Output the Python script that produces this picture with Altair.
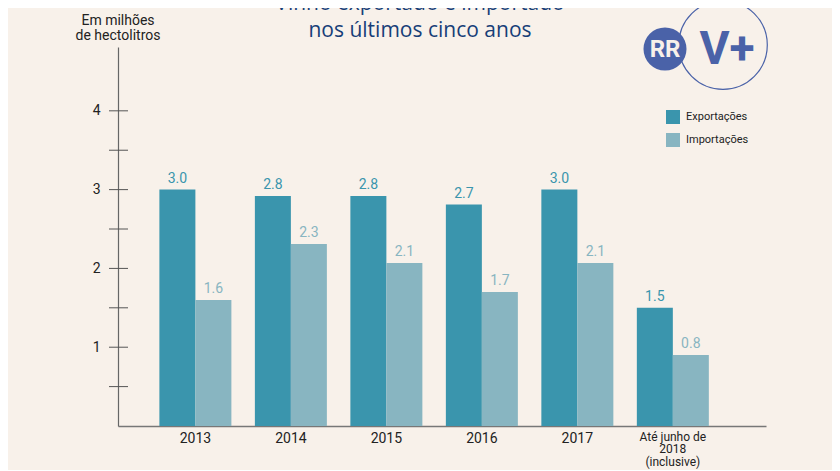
import altair as alt
import pandas as pd

# ---- data ----
years = ["2013", "2014", "2015", "2016", "2017", "Até junho de|2018|(inclusive)"]
series_names = ["Exportações", "Importações"]
exports = [3.0, 2.92, 2.92, 2.81, 3.0, 1.5]
imports = [1.6, 2.31, 2.07, 1.70, 2.07, 0.9]
export_labels = ["3.0", "2.8", "2.8", "2.7", "3.0", "1.5"]
import_labels = ["1.6", "2.3", "2.1", "1.7", "2.1", "0.8"]
y_ticks = [0.5, 1, 1.5, 2, 2.5, 3, 3.5, 4]
title_lines = ["Vinho exportado e importado", "nos últimos cinco anos"]
ytitle_lines = ["Em milhões", "de hectolitros"]

BG = "#f8f1ea"
C_EXP = "#3a95ad"
C_IMP = "#88b5c1"
LOGO = "#4a62a8"

rows = []
for i, y in enumerate(years):
    rows.append({"year": y, "series": series_names[0], "value": exports[i], "label": export_labels[i]})
    rows.append({"year": y, "series": series_names[1], "value": imports[i], "label": import_labels[i]})
df = pd.DataFrame(rows)

xscale = alt.Scale(domain=years, paddingInner=0.246, paddingOuter=0.516, align=0.42)
yscale = alt.Scale(domain=[0, 4.81], nice=False, zero=True)
cscale = alt.Scale(domain=series_names, range=[C_EXP, C_IMP])
oscale = alt.Scale(domain=series_names, paddingInner=0, paddingOuter=0)

base = alt.Chart(df)

bars = base.mark_bar().encode(
    x=alt.X("year:N", scale=xscale, sort=years, title=None,
            axis=alt.Axis(labelExpr="split(datum.label, '|')", labelAngle=0, ticks=False,
                          domainColor="#777777", domainWidth=1.5, labelColor="#222222",
                          labelFont="Roboto",
                          labelFontSize={"condition": {"test": "length(datum.label) > 6", "value": 12}, "value": 14},
                          labelLineHeight=12.5, labelPadding=5, labelBaseline="top")),
    xOffset=alt.XOffset("series:N", scale=oscale),
    y=alt.Y("value:Q", scale=yscale, title=None,
            axis=alt.Axis(values=[1, 2, 3, 4], ticks=False, labelPadding=18, labelFont="Roboto",
                          labelFontSize=14, labelColor="#222222", domainColor="#666666",
                          domainWidth=1.2, grid=False, format="d")),
    color=alt.Color("series:N", scale=cscale, sort=series_names,
                    legend=alt.Legend(title=None, orient="none", legendX=548, legendY=63,
                                      symbolType="square", symbolSize=196, symbolStrokeWidth=0,
                                      labelFont="Roboto", labelFontSize=11, labelColor="#222222",
                                      rowPadding=9, labelOffset=6)),
)

values_text = base.mark_text(baseline="bottom", dy=-4, font="Roboto", fontSize=14).encode(
    x=alt.X("year:N", scale=xscale, sort=years),
    xOffset=alt.XOffset("series:N", scale=oscale),
    y=alt.Y("value:Q", scale=yscale),
    text="label:N",
    color=alt.Color("series:N", scale=cscale, legend=None),
)

ticks = alt.Chart(pd.DataFrame({"t": y_ticks})).mark_rule(color="#555555", strokeWidth=1).encode(
    y=alt.Y("t:Q", scale=yscale),
    x=alt.value(-9),
    x2=alt.value(10),
)

title_df = pd.DataFrame({"t": title_lines, "yy": [-37, -10]})
title = alt.Chart(title_df).mark_text(font="Open Sans", fontSize=21, color="#173e78",
                                      align="center", baseline="alphabetic").encode(
    x=alt.value(302), y=alt.Y("yy:Q", scale=None), text="t:N"
)

ytitle_df = pd.DataFrame({"t": ytitle_lines, "yy": [-22, -7]})
ytitle = alt.Chart(ytitle_df).mark_text(font="Roboto", fontSize=14, color="#222222",
                                        align="center", baseline="alphabetic").encode(
    x=alt.value(0), y=alt.Y("yy:Q", scale=None), text="t:N"
)

logo_ring = alt.Chart(pd.DataFrame({"k": [1]})).mark_point(
    shape="circle", size=7850, filled=False, stroke=LOGO, strokeWidth=1.2, opacity=1
).encode(x=alt.value(605), y=alt.value(-2))

logo_blob = alt.Chart(pd.DataFrame({"k": [1]})).mark_point(
    shape="circle", size=1850, filled=True, color=LOGO, opacity=1
).encode(x=alt.value(547), y=alt.value(2))

logo_rr = alt.Chart(pd.DataFrame({"t": ["RR"]})).mark_text(
    font="Roboto", fontSize=24, fontWeight="bold", color=BG, align="center", baseline="middle"
).encode(x=alt.value(547), y=alt.value(3), text="t:N")

logo_v = alt.Chart(pd.DataFrame({"t": ["V+"]})).mark_text(
    font="Roboto", fontSize=46, fontWeight="bold", color=LOGO, align="center", baseline="middle"
).encode(x=alt.value(609), y=alt.value(3), text="t:N")

chart = alt.layer(bars, values_text, ticks, title, ytitle, logo_ring, logo_blob, logo_rr, logo_v).properties(
    width=648, height=379,
    autosize=alt.AutoSizeParams(type="none"),
    padding={"left": 110, "top": 39, "right": 66, "bottom": 44},
    background=BG,
).configure_view(stroke=None, fill=BG).configure_axis(grid=False)

chart.save("out.html", embed_options={"renderer": "svg", "actions": False})
